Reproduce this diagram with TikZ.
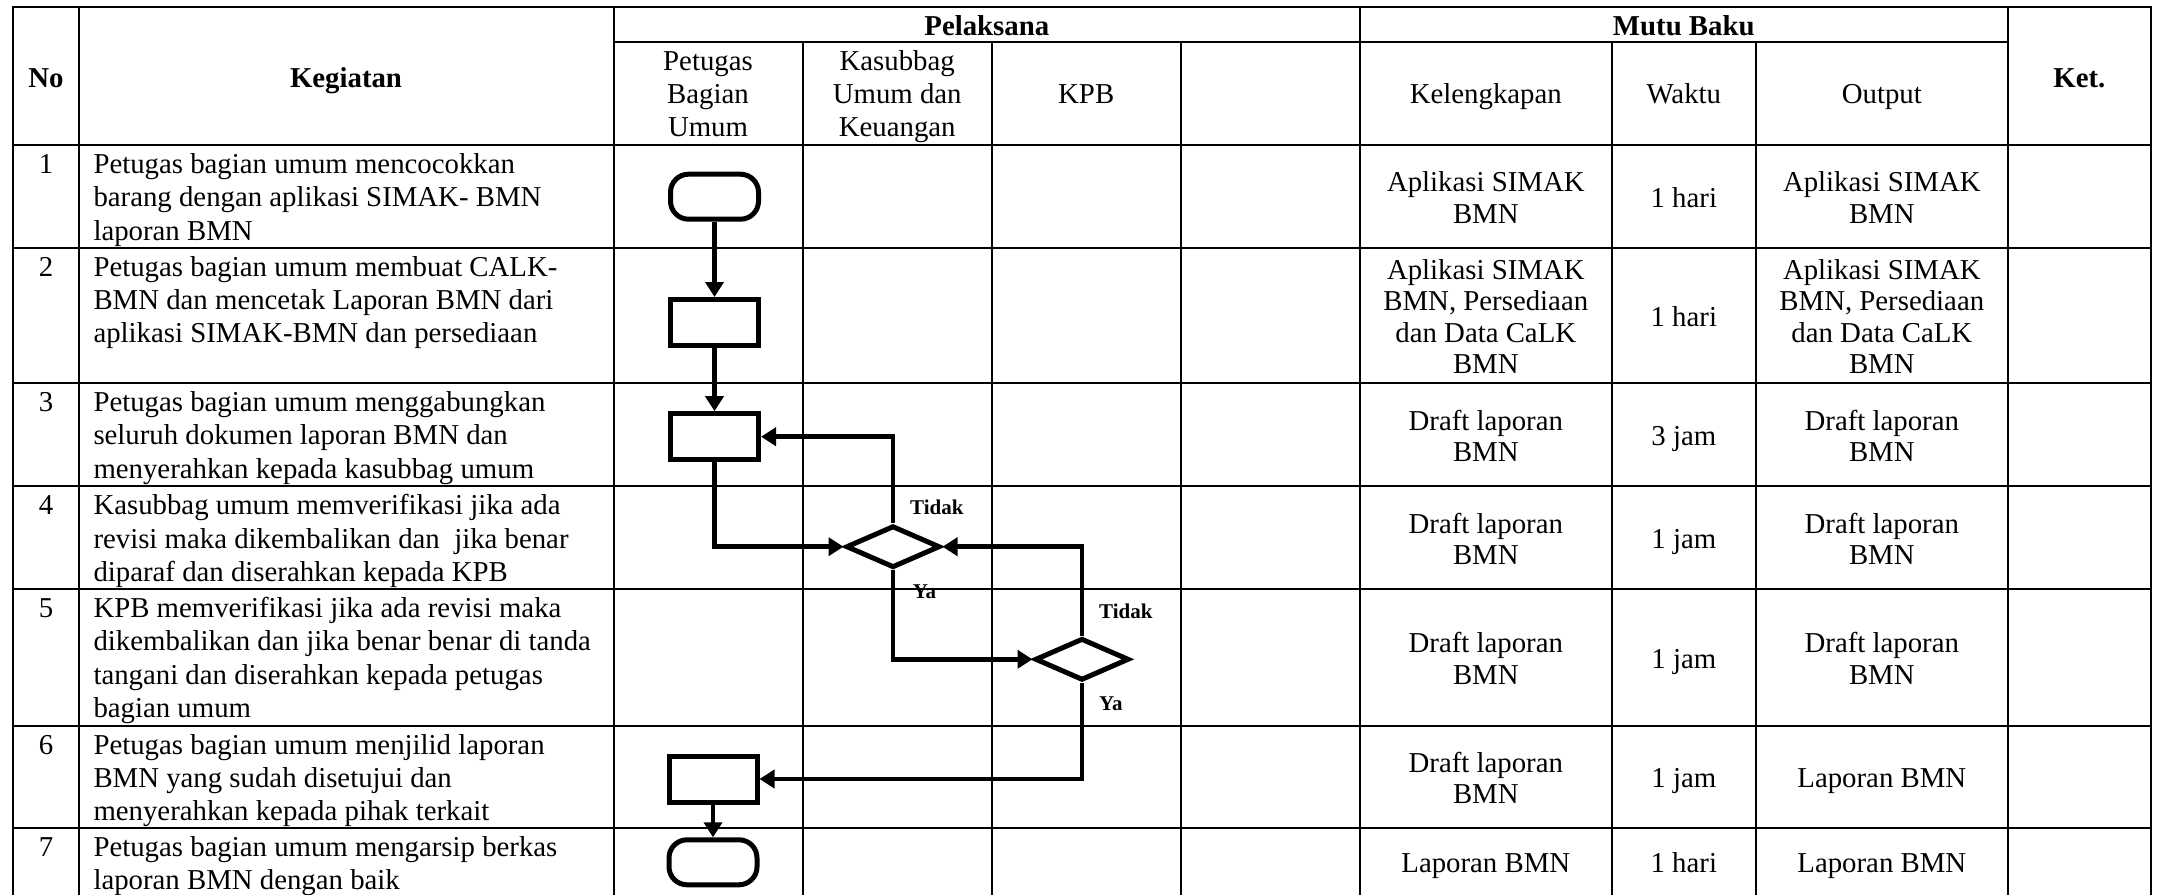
\documentclass[tikz,border=0pt]{standalone}
\usepackage{fontspec}
\setmainfont{Liberation Serif}
\usetikzlibrary{shapes.geometric,arrows.meta}
\newcommand\myfr{\rule{0pt}{25pt}}
\begin{document}
\begin{tikzpicture}[x=1pt,y=-1pt,
  tbl/.style={line width=2pt, line cap=rect},
  hb/.style={font=\fontsize{28.8}{33.3}\selectfont\bfseries, inner sep=0, anchor=base},
  ht/.style={font=\fontsize{28.8}{33.3}\selectfont, align=center, inner sep=0},
  kg/.style={font=\fontsize{28.8}{33.3}\selectfont, align=left, inner sep=0, anchor=north west},
  num/.style={font=\fontsize{28.8}{33.3}\selectfont, inner sep=0, anchor=base},
  mb/.style={font=\fontsize{28.8}{31.5}\selectfont, align=center, inner sep=0, anchor=north},
  term/.style={draw, line width=5pt, rounded corners=18pt, minimum width=88pt, minimum height=45pt, inner sep=0},
  proc/.style={draw, line width=5pt, minimum width=88pt, minimum height=46pt, inner sep=0},
  dec/.style={draw, diamond, line width=5pt, minimum width=94pt, minimum height=42pt, inner sep=0},
  flow/.style={line width=4.5pt, -{Triangle[length=15pt,width=18pt]}},
  lab/.style={font=\fontsize{21}{24}\selectfont\bfseries, inner sep=0, anchor=base west}
]
\useasboundingbox (0,0) rectangle (2157,894);
\fill[white] (0,0) rectangle (2157,894);
% grid
\begin{scope}[tbl]
\draw (13.4,7.3) -- (2151,7.3);
\draw (613.6,42.3) -- (2007.7,42.3);
\foreach \y in {145,247.7,383,486.3,589,725.7,827.7} \draw (13.4,\y) -- (2151,\y);
\foreach \x in {13.4,78.6,613.6,1360,2007.7,2151} \draw (\x,7.3) -- (\x,894);
\foreach \x in {802.6,991.7,1180.7,1612,1755.6} \draw (\x,42.3) -- (\x,894);
\end{scope}
% headers
\node[hb] (hNo) at (46,87.3) {No};
\node[hb] (hKeg) at (346,87.3) {Kegiatan};
\node[hb] (hPel) at (986.8,35) {Pelaksana};
\node[hb] (hMutu) at (1683.8,35) {Mutu Baku};
\node[hb] (hKet) at (2079.4,87.3) {Ket.};
\node[ht, anchor=north] (hPet) at (708,45) {\myfr Petugas\\Bagian\\Umum};
\node[ht, anchor=north] (hKas) at (897.2,45) {\myfr Kasubbag\\Umum dan\\Keuangan};
\node[ht, anchor=base] (hKPB) at (1086.2,103.3) {KPB};
\node[ht, anchor=base] (hKel) at (1485.8,103.3) {Kelengkapan};
\node[ht, anchor=base] (hWak) at (1683.8,103.3) {Waktu};
\node[ht, anchor=base] (hOut) at (1881.8,103.3) {Output};
% numbers
\node[num] (n1) at (46,173.3) {1};
\node[num] (n2) at (46,276) {2};
\node[num] (n3) at (46,411.3) {3};
\node[num] (n4) at (46,514.6) {4};
\node[num] (n5) at (46,617.3) {5};
\node[num] (n6) at (46,754) {6};
\node[num] (n7) at (46,856) {7};
% kegiatan
\node[kg] (k1) at (93.3,148.3) {\myfr Petugas bagian umum mencocokkan\\barang dengan aplikasi SIMAK- BMN\\laporan BMN};
\node[kg] (k2) at (93.3,251) {\myfr Petugas bagian umum membuat CALK-\\BMN dan mencetak Laporan BMN dari\\aplikasi SIMAK-BMN dan persediaan};
\node[kg] (k3) at (93.3,386.3) {\myfr Petugas bagian umum menggabungkan\\seluruh dokumen laporan BMN dan\\menyerahkan kepada kasubbag umum};
\node[kg] (k4) at (93.3,489.6) {\myfr Kasubbag umum memverifikasi jika ada\\revisi maka dikembalikan dan~ jika benar\\diparaf dan diserahkan kepada KPB};
\node[kg] (k5) at (93.3,592.3) {\myfr KPB memverifikasi jika ada revisi maka\\dikembalikan dan jika benar benar di tanda\\tangani dan diserahkan kepada petugas\\bagian umum};
\node[kg] (k6) at (93.3,729) {\myfr Petugas bagian umum menjilid laporan\\BMN yang sudah disetujui dan\\menyerahkan kepada pihak terkait};
\node[kg] (k7) at (93.3,831) {\myfr Petugas bagian umum mengarsip berkas\\laporan BMN dengan baik};
% mutu baku
\node[mb] (a1) at (1485.8,166.6) {\myfr Aplikasi SIMAK\\BMN};
\node[mb] (w1) at (1683.8,182.35) {\myfr 1 hari};
\node[mb] (o1) at (1881.8,166.6) {\myfr Aplikasi SIMAK\\BMN};
\node[mb] (a2) at (1485.8,254.1) {\myfr Aplikasi SIMAK\\BMN, Persediaan\\dan Data CaLK\\BMN};
\node[mb] (w2) at (1683.8,301.35) {\myfr 1 hari};
\node[mb] (o2) at (1881.8,254.1) {\myfr Aplikasi SIMAK\\BMN, Persediaan\\dan Data CaLK\\BMN};
\node[mb] (a3) at (1485.8,404.9) {\myfr Draft laporan\\BMN};
\node[mb] (w3) at (1683.8,420.65) {\myfr 3 jam};
\node[mb] (o3) at (1881.8,404.9) {\myfr Draft laporan\\BMN};
\node[mb] (a4) at (1485.8,507.9) {\myfr Draft laporan\\BMN};
\node[mb] (w4) at (1683.8,523.65) {\myfr 1 jam};
\node[mb] (o4) at (1881.8,507.9) {\myfr Draft laporan\\BMN};
\node[mb] (a5) at (1485.8,627.6) {\myfr Draft laporan\\BMN};
\node[mb] (w5) at (1683.8,643.35) {\myfr 1 jam};
\node[mb] (o5) at (1881.8,627.6) {\myfr Draft laporan\\BMN};
\node[mb] (a6) at (1485.8,746.95) {\myfr Draft laporan\\BMN};
\node[mb] (w6) at (1683.8,762.7) {\myfr 1 jam};
\node[mb] (o6) at (1881.8,762.7) {\myfr Laporan BMN};
\node[mb] (a7) at (1485.8,847) {\myfr Laporan BMN};
\node[mb] (w7) at (1683.8,847) {\myfr 1 hari};
\node[mb] (o7) at (1881.8,847) {\myfr Laporan BMN};
% flowchart
\node[term] (t1) at (714.5,196.7) {};
\node[proc] (p2) at (714.5,322.5) {};
\node[proc] (p3) at (714.5,436.7) {};
\node[dec] (d1) at (893,546.7) {};
\node[dec] (d2) at (1082,659.3) {};
\node[proc] (p6) at (713,779) {};
\node[term] (t7) at (713,862.3) {};
\draw[flow] (t1) -- (p2);
\draw[flow] (p2) -- (p3);
\draw[flow] (p3.south) |- (d1.west);
\draw[flow] (d1.north) |- (p3.east);
\draw[flow] (d1.south) |- (d2.west);
\draw[flow] (d2.north) |- (d1.east);
\draw[flow] (d2.south) |- (p6.east);
\draw[flow] (p6) -- (t7);
\node[lab] (l1) at (910,514) {Tidak};
\node[lab] (l2) at (912.6,598.3) {Ya};
\node[lab] (l3) at (1099,618.5) {Tidak};
\node[lab] (l4) at (1099,710) {Ya};
\end{tikzpicture}
\end{document}
